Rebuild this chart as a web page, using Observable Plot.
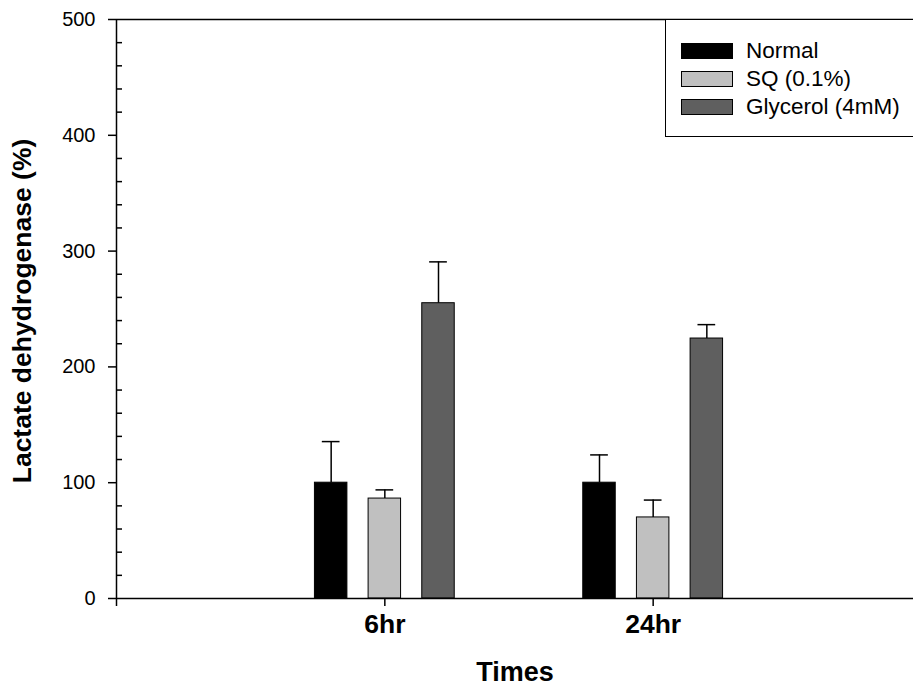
<!DOCTYPE html>
<html>
<head>
<meta charset="utf-8">
<script src="https://cdn.jsdelivr.net/npm/d3@7"></script>
<script src="https://cdn.jsdelivr.net/npm/@observablehq/plot@0.6"></script>
<style>
  body { margin: 0; background: #fff; font-family: "Liberation Sans", Arial, sans-serif; }
  #wrap { position: relative; width: 913px; height: 686px; overflow: hidden; }
  #legend { position: absolute; left: 665px; top: 19px; width: 270px; height: 118px;
            border: 1.5px solid #000; box-sizing: border-box; background: #fff; }
  .item { position: absolute; left: 15px; height: 24px; display: flex; align-items: center;
          font-size: 22.5px; color: #000; white-space: nowrap; }
  .sw { width: 52px; height: 16px; box-sizing: border-box; border: 1px solid #000; margin-right: 13px; }
</style>
</head>
<body>
<div id="wrap"></div>
<script>
// ---- data ----
const times = ["6hr", "24hr"];
const groups = ["Normal", "SQ (0.1%)", "Glycerol (4mM)"];
const groupColors = ["#000000", "#c0c0c0", "#5f5f5f"];
const normalMean = [100, 100];
const normalErr = [35.5, 24];
const sqMean = [86.3, 70];
const sqErr = [7.5, 15];
const glyMean = [255, 224.5];
const glyErr = [35.7, 12];
const yTicks = [0, 100, 200, 300, 400, 500];

const means = [normalMean, sqMean, glyMean];
const errs = [normalErr, sqErr, glyErr];
const rows = [];
groups.forEach((g, gi) => times.forEach((t, ti) => {
  rows.push({group: g, gi, ti, time: t, mean: means[gi][ti], err: errs[gi][ti]});
}));

const OFF = 0.2, BW = 0.121, CAP = 0.033;
const pos = d => d.ti + 1 + (d.gi - 1) * OFF;
const minorTicks = d3.range(0, 501, 20).filter(v => v % 100 !== 0);

const font = '"Liberation Sans", Arial, sans-serif';

const chart = Plot.plot({
  width: 913,
  height: 686,
  marginLeft: 116,
  marginRight: 0,
  marginTop: 19,
  marginBottom: 88,
  style: {fontFamily: font, background: "white", overflow: "hidden"},
  x: {domain: [0, 3], range: [116, 921], axis: null},
  y: {domain: [0, 500], axis: null},
  color: {domain: groups, range: groupColors},
  marks: [
    Plot.rect(rows, {
      x1: d => pos(d) - BW / 2, x2: d => pos(d) + BW / 2,
      y1: 0, y2: "mean", fill: "group", stroke: "black", strokeWidth: 1
    }),
    Plot.ruleX(rows, {x: pos, y1: "mean", y2: d => d.mean + d.err, stroke: "black", strokeWidth: 1.5}),
    Plot.ruleY(rows, {x1: d => pos(d) - CAP, x2: d => pos(d) + CAP, y: d => d.mean + d.err, stroke: "black", strokeWidth: 1.5}),
    Plot.ruleY([0, 500], {stroke: "black", strokeWidth: 1.5}),
    Plot.ruleX([0], {stroke: "black", strokeWidth: 1.5}),
    Plot.axisY({ticks: yTicks, tickSize: 8, tickPadding: 13, fontSize: 20, strokeWidth: 1.5, label: null}),
    Plot.axisY({ticks: minorTicks, tickSize: -6, tickFormat: () => "", strokeWidth: 1.5, label: null}),
    Plot.axisX({ticks: [0, 1, 2], tickSize: 8, tickPadding: 8, fontSize: 26.5, fontWeight: "bold",
                strokeWidth: 1.5, tickFormat: d => times[d - 1] ?? "", label: null}),
    Plot.text(["Times"], {frameAnchor: "bottom", dy: 74, fontSize: 27, fontWeight: "bold", lineAnchor: "middle"}),
    Plot.text(["Lactate dehydrogenase (%)"], {frameAnchor: "left", dx: -94, dy: 2, rotate: -90, textAnchor: "middle",
                fontSize: 26.5, fontWeight: "bold", lineAnchor: "middle"})
  ]
});
document.getElementById("wrap").appendChild(chart);

// legend
const legend = document.createElement("div");
legend.id = "legend";
const rowTops = [19, 47, 75];
groups.forEach((g, i) => {
  const it = document.createElement("div");
  it.className = "item";
  it.style.top = rowTops[i] + "px";
  const sw = document.createElement("div");
  sw.className = "sw";
  sw.style.background = groupColors[i];
  const tx = document.createElement("span");
  tx.textContent = g;
  it.appendChild(sw); it.appendChild(tx);
  legend.appendChild(it);
});
document.getElementById("wrap").appendChild(legend);
</script>
</body>
</html>
